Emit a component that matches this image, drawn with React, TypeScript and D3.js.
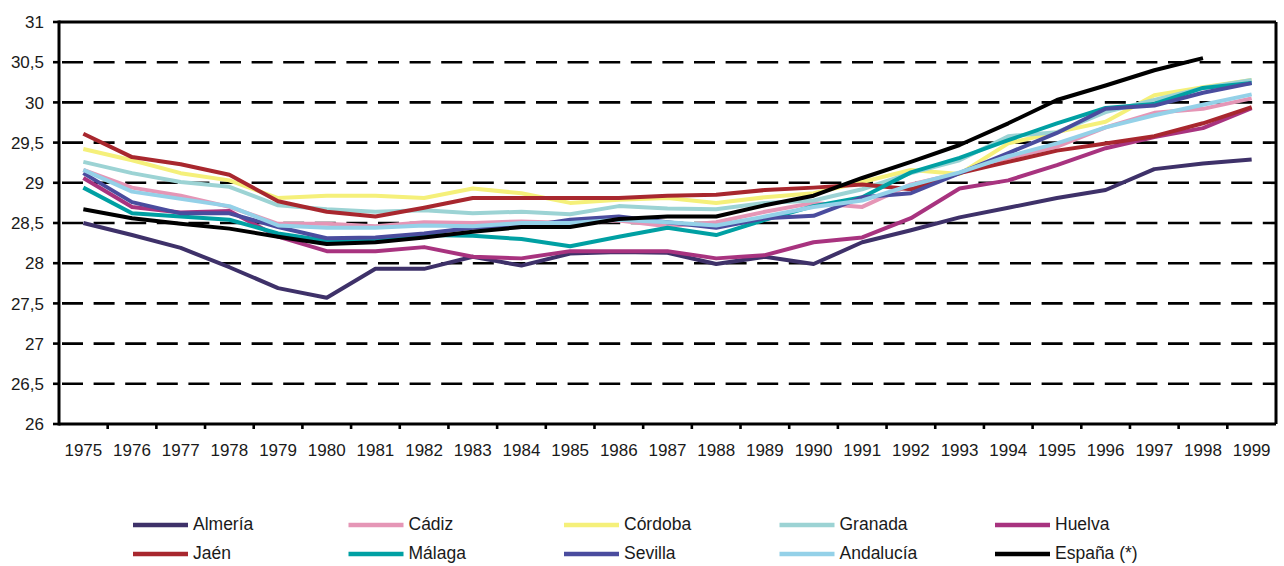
import * as d3 from "d3";

// years on the x axis
const years = [
  "1975", "1976", "1977", "1978", "1979", "1980", "1981", "1982", "1983",
  "1984", "1985", "1986", "1987", "1988", "1989", "1990", "1991", "1992",
  "1993", "1994", "1995", "1996", "1997", "1998", "1999",
];

const yTicks = [26, 26.5, 27, 27.5, 28, 28.5, 29, 29.5, 30, 30.5, 31];

// mean age values, 1975..1999
const almeria = [28.5, 28.35, 28.19, 27.95, 27.69, 27.57, 27.93, 27.93, 28.08, 27.97, 28.12, 28.14, 28.13, 27.99, 28.08, 27.99, 28.26, 28.41, 28.57, 28.69, 28.81, 28.91, 29.17, 29.24, 29.29];
const cadiz = [29.16, 28.94, 28.84, 28.7, 28.49, 28.49, 28.46, 28.51, 28.5, 28.52, 28.5, 28.53, 28.46, 28.51, 28.64, 28.75, 28.7, 28.98, 29.12, 29.31, 29.45, 29.69, 29.87, 29.92, 30.05];
const cordoba = [29.42, 29.28, 29.12, 29.03, 28.81, 28.84, 28.84, 28.81, 28.93, 28.87, 28.75, 28.79, 28.81, 28.75, 28.82, 28.87, 29.01, 29.16, 29.11, 29.49, 29.63, 29.76, 30.09, 30.19, 30.28];
const granada = [29.26, 29.12, 29.01, 28.95, 28.72, 28.67, 28.64, 28.66, 28.62, 28.64, 28.61, 28.71, 28.68, 28.67, 28.75, 28.78, 28.92, 29.12, 29.28, 29.58, 29.63, 29.88, 30.03, 30.18, 30.28];
const huelva = [29.06, 28.7, 28.63, 28.65, 28.33, 28.15, 28.15, 28.2, 28.08, 28.06, 28.15, 28.15, 28.15, 28.06, 28.1, 28.26, 28.32, 28.56, 28.93, 29.03, 29.22, 29.43, 29.57, 29.68, 29.93];
const jaen = [29.61, 29.32, 29.23, 29.1, 28.77, 28.64, 28.58, 28.69, 28.81, 28.81, 28.81, 28.81, 28.84, 28.85, 28.91, 28.94, 28.98, 28.92, 29.12, 29.26, 29.4, 29.49, 29.58, 29.74, 29.94];
const malaga = [28.94, 28.62, 28.58, 28.54, 28.37, 28.28, 28.28, 28.35, 28.34, 28.3, 28.21, 28.33, 28.44, 28.35, 28.54, 28.71, 28.82, 29.13, 29.31, 29.53, 29.74, 29.93, 29.98, 30.18, 30.24];
const sevilla = [29.12, 28.76, 28.62, 28.62, 28.45, 28.31, 28.32, 28.37, 28.44, 28.45, 28.54, 28.58, 28.51, 28.44, 28.56, 28.59, 28.82, 28.87, 29.12, 29.37, 29.62, 29.92, 29.96, 30.12, 30.24];
const andalucia = [29.16, 28.89, 28.8, 28.71, 28.47, 28.44, 28.44, 28.47, 28.46, 28.5, 28.5, 28.54, 28.51, 28.47, 28.58, 28.7, 28.78, 28.97, 29.13, 29.33, 29.49, 29.69, 29.84, 29.97, 30.1];
const espana = [28.67, 28.56, 28.49, 28.43, 28.33, 28.24, 28.26, 28.32, 28.39, 28.45, 28.45, 28.55, 28.58, 28.58, 28.72, 28.84, 29.06, 29.26, 29.47, 29.74, 30.03, 30.21, 30.4, 30.55, null];

const seriesNames = ["Almería", "Cádiz", "Córdoba", "Granada", "Huelva", "Jaén", "Málaga", "Sevilla", "Andalucía", "España (*)"];
const seriesValues = [almeria, cadiz, cordoba, granada, huelva, jaen, malaga, sevilla, andalucia, espana];
const seriesColors = ["#3e3169", "#e596b6", "#f5f07a", "#9cd3d4", "#a8337f", "#a8272e", "#00a0a3", "#4a4c9e", "#94d1e8", "#000000"];

const FONT = "'Liberation Sans', Arial, sans-serif";

const App = () => {
  const width = 1284;
  const height = 566;
  const left = 59;
  const right = 1276;
  const top = 22;
  const bottom = 424;

  const x = d3.scaleBand<string>().domain(years).range([left, right]).padding(0);
  const y = d3.scaleLinear().domain([26, 31]).range([bottom, top]);
  const cx = (yr: string) => (x(yr) as number) + x.bandwidth() / 2;

  const line = d3
    .line<number | null>()
    .defined((d) => d !== null)
    .x((_, i) => cx(years[i]))
    .y((d) => y(d as number));

  // legend: 5 columns, 2 rows
  const legendCols = 5;
  const legendX = d3.scaleLinear().domain([0, 1]).range([133, 348.5]);
  const legendY = d3.scaleLinear().domain([0, 1]).range([525, 554]);

  return (
    <svg
      width={width}
      height={height}
      style={{ position: "absolute", left: 0, top: 0, background: "#fff" }}
      fontFamily={FONT}
    >
      {/* dashed grid */}
      {yTicks
        .filter((t) => t !== 26 && t !== 31)
        .map((t) => (
          <line
            key={t}
            x1={left + 3}
            x2={right}
            y1={y(t)}
            y2={y(t)}
            stroke="#000"
            strokeWidth={2.6}
            strokeDasharray="21 10.6"
          />
        ))}

      {/* frame */}
      <line x1={left} x2={right} y1={top} y2={top} stroke="#000" strokeWidth={3} />
      <line x1={right} x2={right} y1={top} y2={bottom} stroke="#000" strokeWidth={3} />
      <line x1={left} x2={left} y1={top - 1.5} y2={bottom + 1.5} stroke="#000" strokeWidth={3} />
      <line x1={left} x2={right} y1={bottom} y2={bottom} stroke="#000" strokeWidth={3} />

      {/* y axis ticks and labels */}
      {yTicks.map((t) => (
        <g key={t}>
          <line x1={left - 6} x2={left} y1={y(t)} y2={y(t)} stroke="#000" strokeWidth={2.6} />
          <text x={44} y={y(t)} dy="0.36em" textAnchor="end" fontSize={17} fill="#1a1a1a">
            {String(t).replace(".", ",")}
          </text>
        </g>
      ))}

      {/* x axis ticks and labels */}
      {years.map((yr, i) => (
        <g key={yr}>
          {i > 0 && (
            <line x1={x(yr)} x2={x(yr)} y1={bottom} y2={bottom + 5} stroke="#000" strokeWidth={2.6} />
          )}
          <text x={cx(yr)} y={456} textAnchor="middle" fontSize={17} fill="#1a1a1a">
            {yr}
          </text>
        </g>
      ))}

      {/* series */}
      {seriesValues.map((vals, i) => (
        <path
          key={seriesNames[i]}
          d={line(vals) ?? undefined}
          fill="none"
          stroke={seriesColors[i]}
          strokeWidth={4}
          strokeLinejoin="round"
        />
      ))}

      {/* legend */}
      {seriesNames.map((name, i) => {
        const col = i % legendCols;
        const row = Math.floor(i / legendCols);
        const lx = legendX(col);
        const ly = legendY(row);
        return (
          <g key={name}>
            <line x1={lx} x2={lx + 55} y1={ly} y2={ly} stroke={seriesColors[i]} strokeWidth={4.5} />
            <text x={lx + 60} y={ly} dy="0.28em" fontSize={17.5} fill="#1a1a1a">
              {name}
            </text>
          </g>
        );
      })}
    </svg>
  );
};

export default App;
